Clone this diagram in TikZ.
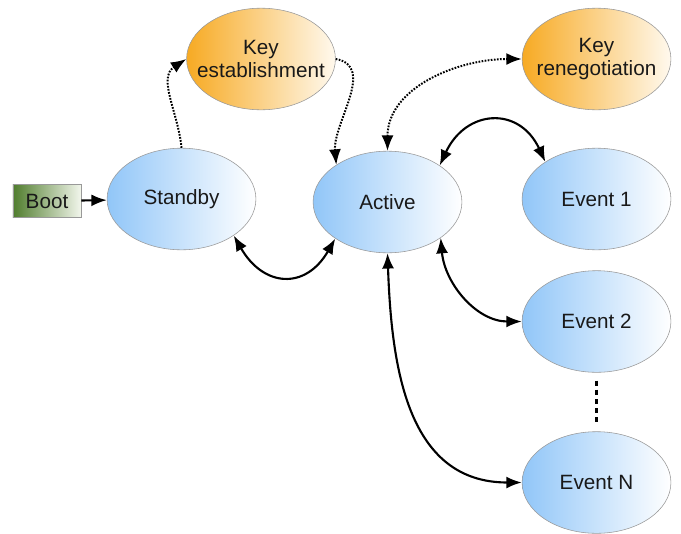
\documentclass[tikz,border=0pt]{standalone}
\usepackage{fontspec}
\setmainfont{Liberation Sans}
\usetikzlibrary{shapes.geometric,arrows.meta}
\definecolor{stateblue}{RGB}{145,198,248}
\definecolor{keyorange}{RGB}{247,170,35}
\definecolor{keylight}{RGB}{255,249,238}
\definecolor{bootgreen}{RGB}{80,125,45}
\definecolor{bootlight}{RGB}{242,246,236}
\begin{document}
\begin{tikzpicture}[x=0.025cm,y=0.025cm,>={Latex[length=11pt,width=8.5pt]},
        state/.style={ellipse,draw=gray!80,thin,minimum width=3.72cm,minimum height=2.54cm,
            inner sep=-20pt,left color=stateblue,right color=white,align=center,
            text=black!90,font=\fontsize{14.7}{17}\selectfont},
        keystate/.style={state,left color=keyorange,right color=keylight},
        link/.style={<->,line width=1.5pt},
        keylink/.style={->,line width=1.4pt,dash pattern=on 1.2pt off 1pt}]
        \useasboundingbox(0,0)rectangle(681,-533);
        % states
        \node[keystate] (kest) at (261,-59) {Key\\establishment};
        \node[keystate] (kren) at (596.5,-59) {Key\\renegotiation};
        \node[state] (stb) at (181.5,-199) {Standby};
        \node[state] (act) at (387.5,-202) {Active};
        \foreach \y/\t/\n in {199/1/e1,321.5/2/e2,482.5/N/en}
            {
                \node[state] (\n) at (596.5,-\y) {Event \t};
            }
        \node[draw=gray!80,thin,left color=bootgreen,right color=bootlight,minimum width=1.7cm,
            minimum height=0.825cm,inner sep=0pt,text=black!90,
            font=\fontsize{14.7}{17}\selectfont] (boot) at (47,-201) {Boot};
        % transitions
        \draw[->,line width=1.5pt] (boot) -- (stb);
        \draw[link] (stb.-35) to[out=-60,in=-120,looseness=1.5] (act.-145);
        \draw[link] (act.35) to[out=65,in=115,looseness=1.5] (e1.144);
        \draw[link] (act.-34) to[out=-85,in=180] (e2.west);
        \draw[link] (act.south) to[out=-88,in=180,looseness=1.1] (en.west);
        \draw[keylink] (stb.north) to[out=95,in=213] (kest.west);
        \draw[keylink] (kest.east) to[out=-10,in=95] (act.144);
        \draw[keylink,<->] (act.north) to[out=90,in=180] (kren.west);
        \draw[line width=2.3pt,dash pattern=on 3.5pt off 3pt,shorten <=0.2cm,shorten >=0.15cm] (e2) -- (en);
    \end{tikzpicture}
\end{document}
